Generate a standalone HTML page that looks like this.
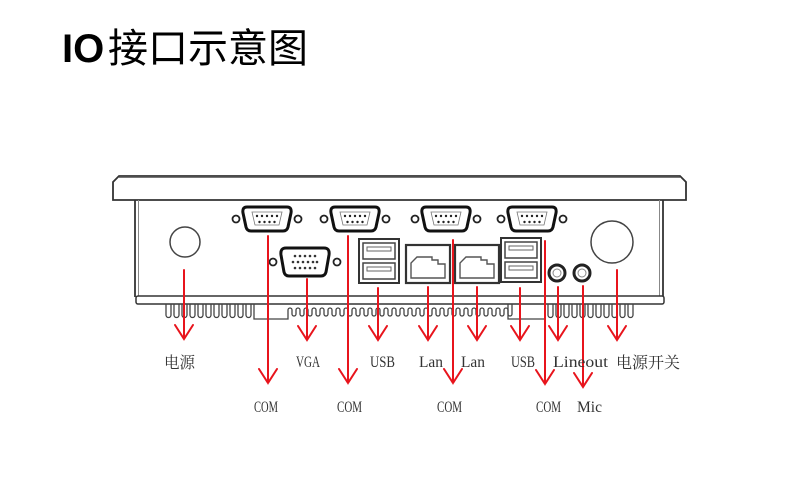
<!DOCTYPE html>
<html><head><meta charset="utf-8"><style>
html,body{margin:0;padding:0;background:#fff;}
svg{display:block;}
</style></head><body>
<svg width="800" height="500" viewBox="0 0 800 500" xmlns="http://www.w3.org/2000/svg">
<rect width="800" height="500" fill="#fff"/>
<!-- title -->
<text x="62" y="62" font-family="Liberation Sans, sans-serif" font-weight="bold" font-size="40" fill="#000">IO</text>
<text x="108" y="62" font-family="Liberation Sans, 'Noto Sans CJK SC', sans-serif" font-size="40" fill="#000" textLength="200" lengthAdjust="spacingAndGlyphs">接口示意图</text>

<g fill="none" stroke="#333" stroke-width="1.5">
  <!-- bezel -->
  <path d="M113,182 L119,176 H680 L686,182 V200 H113 Z" fill="#fff" stroke-width="1.8"/>
  <line x1="119" y1="177.5" x2="680" y2="177.5" stroke="#777" stroke-width="1"/>
  <!-- body sides -->
  <line x1="135" y1="200" x2="135" y2="297" stroke-width="1.8"/>
  <line x1="138.5" y1="200" x2="138.5" y2="297" stroke="#888" stroke-width="1"/>
  <line x1="663" y1="200" x2="663" y2="297" stroke-width="1.8"/>
  <line x1="659.5" y1="200" x2="659.5" y2="297" stroke="#888" stroke-width="1"/>
  <!-- bottom plate -->
  <rect x="136" y="296" width="528" height="8" rx="2" fill="#fff"/>
</g>

<!-- fins -->
<g fill="none" stroke="#444" stroke-width="1.3">
  <path id="finsL" d="
  M166,304 V315 a2.5,2.5 0 0 0 5,0 V304
  M174,304 V315 a2.5,2.5 0 0 0 5,0 V304
  M182,304 V315 a2.5,2.5 0 0 0 5,0 V304
  M190,304 V315 a2.5,2.5 0 0 0 5,0 V304
  M198,304 V315 a2.5,2.5 0 0 0 5,0 V304
  M206,304 V315 a2.5,2.5 0 0 0 5,0 V304
  M214,304 V315 a2.5,2.5 0 0 0 5,0 V304
  M222,304 V315 a2.5,2.5 0 0 0 5,0 V304
  M230,304 V315 a2.5,2.5 0 0 0 5,0 V304
  M238,304 V315 a2.5,2.5 0 0 0 5,0 V304
  M246,304 V315 a2.5,2.5 0 0 0 5,0 V304"/>
  <path d="M254,304 V319 H288 V310"/>
  <path d="M288,310 a2,2 0 0 1 4,0 V314 a2,2 0 0 0 4,0 V310 a2,2 0 0 1 4,0 V314 a2,2 0 0 0 4,0 V310 a2,2 0 0 1 4,0 V314 a2,2 0 0 0 4,0 V310 a2,2 0 0 1 4,0 V314 a2,2 0 0 0 4,0 V310 a2,2 0 0 1 4,0 V314 a2,2 0 0 0 4,0 V310 a2,2 0 0 1 4,0 V314 a2,2 0 0 0 4,0 V310 a2,2 0 0 1 4,0 V314 a2,2 0 0 0 4,0 V310 a2,2 0 0 1 4,0 V314 a2,2 0 0 0 4,0 V310 a2,2 0 0 1 4,0 V314 a2,2 0 0 0 4,0 V310 a2,2 0 0 1 4,0 V314 a2,2 0 0 0 4,0 V310 a2,2 0 0 1 4,0 V314 a2,2 0 0 0 4,0 V310 a2,2 0 0 1 4,0 V314 a2,2 0 0 0 4,0 V310 a2,2 0 0 1 4,0 V314 a2,2 0 0 0 4,0 V310 a2,2 0 0 1 4,0 V314 a2,2 0 0 0 4,0 V310"/>
  <path d="M400,310 a2,2 0 0 1 4,0 V314 a2,2 0 0 0 4,0 V310 a2,2 0 0 1 4,0 V314 a2,2 0 0 0 4,0 V310 a2,2 0 0 1 4,0 V314 a2,2 0 0 0 4,0 V310 a2,2 0 0 1 4,0 V314 a2,2 0 0 0 4,0 V310 a2,2 0 0 1 4,0 V314 a2,2 0 0 0 4,0 V310 a2,2 0 0 1 4,0 V314 a2,2 0 0 0 4,0 V310 a2,2 0 0 1 4,0 V314 a2,2 0 0 0 4,0 V310 a2,2 0 0 1 4,0 V314 a2,2 0 0 0 4,0 V310 a2,2 0 0 1 4,0 V314 a2,2 0 0 0 4,0 V310 a2,2 0 0 1 4,0 V314 a2,2 0 0 0 4,0 V310 a2,2 0 0 1 4,0 V314 a2,2 0 0 0 4,0 V310 a2,2 0 0 1 4,0 V314 a2,2 0 0 0 4,0 V310 a2,2 0 0 1 4,0 V314 a2,2 0 0 0 4,0 V310 a2,2 0 0 1 4,0 V314 a2,2 0 0 0 4,0 V310 V304"/>
  <path d="M508,304 V319 H545 V304"/>
  <path d="
  M548,304 V315 a2.5,2.5 0 0 0 5,0 V304
  M556,304 V315 a2.5,2.5 0 0 0 5,0 V304
  M564,304 V315 a2.5,2.5 0 0 0 5,0 V304
  M572,304 V315 a2.5,2.5 0 0 0 5,0 V304
  M580,304 V315 a2.5,2.5 0 0 0 5,0 V304
  M588,304 V315 a2.5,2.5 0 0 0 5,0 V304
  M596,304 V315 a2.5,2.5 0 0 0 5,0 V304
  M604,304 V315 a2.5,2.5 0 0 0 5,0 V304
  M612,304 V315 a2.5,2.5 0 0 0 5,0 V304
  M620,304 V315 a2.5,2.5 0 0 0 5,0 V304
  M628,304 V315 a2.5,2.5 0 0 0 5,0 V304"/>
</g>

<!-- power circles -->
<circle cx="185" cy="242" r="15" fill="none" stroke="#444" stroke-width="1.5"/>
<circle cx="612" cy="242" r="21" fill="none" stroke="#444" stroke-width="1.5"/>

<defs>
  <g id="db9">
    <circle cx="-31" cy="0" r="3.5" fill="none" stroke="#222" stroke-width="1.8"/>
    <circle cx="31" cy="0" r="3.5" fill="none" stroke="#222" stroke-width="1.8"/>
    <path d="M-20,-12 H20 Q25,-12 24,-6 L21,8 Q20,12 16,12 H-16 Q-20,12 -21,8 L-24,-6 Q-25,-12 -20,-12 Z" fill="#fff" stroke="#111" stroke-width="3"/>
    <path d="M-15,-7 H15 L12,6 H-12 Z" fill="none" stroke="#777" stroke-width="0.8"/>
    <g fill="#222">
      <circle cx="-10" cy="-3" r="1.2"/><circle cx="-5" cy="-3" r="1.2"/><circle cx="0" cy="-3" r="1.2"/><circle cx="5" cy="-3" r="1.2"/><circle cx="10" cy="-3" r="1.2"/>
      <circle cx="-7.5" cy="3" r="1.2"/><circle cx="-2.5" cy="3" r="1.2"/><circle cx="2.5" cy="3" r="1.2"/><circle cx="7.5" cy="3" r="1.2"/>
    </g>
  </g>
  <g id="usb">
    <rect x="0" y="0" width="40" height="44" fill="#fff" stroke="#333" stroke-width="2"/>
    <rect x="4" y="4" width="32" height="16" fill="#fff" stroke="#444" stroke-width="1.5"/>
    <rect x="4" y="24" width="32" height="16" fill="#fff" stroke="#444" stroke-width="1.5"/>
    <rect x="8" y="8" width="24" height="4" fill="#fff" stroke="#666" stroke-width="1"/>
    <rect x="8" y="28" width="24" height="4" fill="#fff" stroke="#666" stroke-width="1"/>
  </g>
  <g id="lan">
    <rect x="0" y="0" width="44" height="38" fill="#fff" stroke="#333" stroke-width="2.2"/>
    <path d="M5,33 V18 L11,12 H26 V15 H32 V19 H39 V33 Z" fill="none" stroke="#555" stroke-width="1.4"/>
  </g>
</defs>

<use href="#db9" x="267" y="219"/>
<use href="#db9" x="355" y="219"/>
<use href="#db9" x="446" y="219"/>
<use href="#db9" x="532" y="219"/>

<!-- VGA -->
<g transform="translate(305,262)">
  <circle cx="-32" cy="0" r="3.5" fill="none" stroke="#222" stroke-width="1.8"/>
  <circle cx="32" cy="0" r="3.5" fill="none" stroke="#222" stroke-width="1.8"/>
  <path d="M-19,-14 H19 Q25,-14 24,-7 L21,10 Q20,14 16,14 H-16 Q-20,14 -21,10 L-24,-7 Q-25,-14 -19,-14 Z" fill="#fff" stroke="#111" stroke-width="3"/>
  <g fill="#333">
    <circle cx="-10" cy="-6" r="1.3"/><circle cx="-5" cy="-6" r="1.3"/><circle cx="0" cy="-6" r="1.3"/><circle cx="5" cy="-6" r="1.3"/><circle cx="10" cy="-6" r="1.3"/>
    <circle cx="-12" cy="0" r="1.3"/><circle cx="-7" cy="0" r="1.3"/><circle cx="-2" cy="0" r="1.3"/><circle cx="3" cy="0" r="1.3"/><circle cx="8" cy="0" r="1.3"/><circle cx="12" cy="0" r="1.3"/>
    <circle cx="-10" cy="6" r="1.3"/><circle cx="-5" cy="6" r="1.3"/><circle cx="0" cy="6" r="1.3"/><circle cx="5" cy="6" r="1.3"/><circle cx="10" cy="6" r="1.3"/>
  </g>
</g>

<use href="#usb" x="359" y="239"/>
<use href="#usb" x="501" y="238"/>
<use href="#lan" x="406" y="245"/>
<use href="#lan" x="455" y="245"/>

<!-- audio jacks -->
<circle cx="557" cy="273" r="8" fill="#fff" stroke="#222" stroke-width="3"/>
<circle cx="557" cy="273" r="4" fill="none" stroke="#888" stroke-width="1"/>
<circle cx="582" cy="273" r="8" fill="#fff" stroke="#222" stroke-width="3"/>
<circle cx="582" cy="273" r="4" fill="none" stroke="#888" stroke-width="1"/>

<!-- red arrows -->
<g stroke="#e8141c" stroke-width="2" fill="none" stroke-linecap="round" stroke-linejoin="miter">
  <path d="M184,270 V339 M175,325 L184,339 L193,325"/>
  <path d="M268,236 V383 M259,369 L268,383 L277,369"/>
  <path d="M307,279 V340 M298,326 L307,340 L316,326"/>
  <path d="M348,236 V383 M339,369 L348,383 L357,369"/>
  <path d="M378,288 V340 M369,326 L378,340 L387,326"/>
  <path d="M428,287 V340 M419,326 L428,340 L437,326"/>
  <path d="M453,240 V383 M444,369 L453,383 L462,369"/>
  <path d="M477,287 V340 M468,326 L477,340 L486,326"/>
  <path d="M520,288 V340 M511,326 L520,340 L529,326"/>
  <path d="M545,241 V384 M536,370 L545,384 L554,370"/>
  <path d="M558,287 V340 M549,326 L558,340 L567,326"/>
  <path d="M583,286 V387 M574,373 L583,387 L592,373"/>
  <path d="M617,270 V340 M608,326 L617,340 L626,326"/>
</g>

<!-- labels -->
<g font-family="Liberation Serif, 'Noto Serif CJK SC', serif" font-size="16" fill="#333">
  <text x="164" y="368" font-family="Liberation Serif, 'Noto Serif CJK SC', serif" textLength="31" lengthAdjust="spacingAndGlyphs">电源</text>
  <text x="296" y="367" textLength="24" lengthAdjust="spacingAndGlyphs">VGA</text>
  <text x="370" y="367" textLength="25" lengthAdjust="spacingAndGlyphs">USB</text>
  <text x="419" y="367" textLength="24" lengthAdjust="spacingAndGlyphs">Lan</text>
  <text x="461" y="367" textLength="24" lengthAdjust="spacingAndGlyphs">Lan</text>
  <text x="511" y="367" textLength="24" lengthAdjust="spacingAndGlyphs">USB</text>
  <text x="553" y="367" textLength="55" lengthAdjust="spacingAndGlyphs">Lineout</text>
  <text x="616" y="368" textLength="64" lengthAdjust="spacingAndGlyphs">电源开关</text>
  <text x="254" y="412" textLength="24" lengthAdjust="spacingAndGlyphs">COM</text>
  <text x="337" y="412" textLength="25" lengthAdjust="spacingAndGlyphs">COM</text>
  <text x="437" y="412" textLength="25" lengthAdjust="spacingAndGlyphs">COM</text>
  <text x="536" y="412" textLength="25" lengthAdjust="spacingAndGlyphs">COM</text>
  <text x="577" y="412" textLength="25" lengthAdjust="spacingAndGlyphs">Mic</text>
</g>
</svg>
</body></html>
